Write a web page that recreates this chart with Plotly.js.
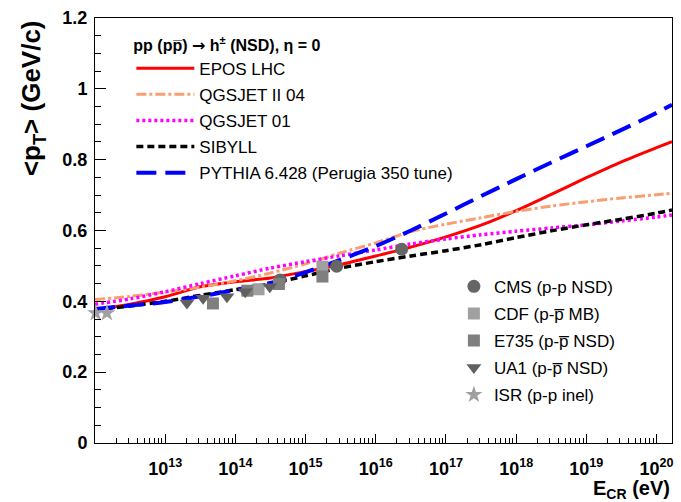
<!DOCTYPE html>
<html>
<head>
<meta charset="utf-8">
<script src="https://cdn.plot.ly/plotly-3.0.1.min.js"></script>
<style>
  html, body { margin: 0; padding: 0; background: #fff; }
  #chart { width: 681px; height: 502px; }
</style>
</head>
<body>
<div id="chart"></div>
<script>
// Model predictions: log10(E_CR / eV) sampling grid and <pT> in GeV/c
const modelLogE   = [12.0, 12.5, 13.0, 13.5, 14.0, 14.5, 15.0, 15.5, 16.0, 16.5, 17.0, 17.5, 18.0, 18.5, 19.0, 19.5, 20.0, 20.22];
const eposLHC     = [0.376, 0.392, 0.413, 0.441, 0.455, 0.466, 0.484, 0.504, 0.528, 0.553, 0.582, 0.615, 0.656, 0.702, 0.749, 0.794, 0.834, 0.851];
const qgsjetII04  = [0.405, 0.414, 0.426, 0.440, 0.458, 0.480, 0.506, 0.537, 0.565, 0.597, 0.618, 0.636, 0.654, 0.669, 0.681, 0.692, 0.701, 0.705];
const qgsjet01    = [0.392, 0.407, 0.427, 0.450, 0.472, 0.494, 0.512, 0.529, 0.545, 0.562, 0.576, 0.588, 0.598, 0.607, 0.616, 0.627, 0.638, 0.644];
const sibyll      = [0.376, 0.387, 0.400, 0.417, 0.433, 0.450, 0.472, 0.494, 0.512, 0.528, 0.543, 0.560, 0.580, 0.599, 0.616, 0.632, 0.649, 0.658];
const pythia      = [0.378, 0.388, 0.398, 0.414, 0.432, 0.452, 0.482, 0.518, 0.556, 0.600, 0.648, 0.697, 0.745, 0.792, 0.838, 0.884, 0.932, 0.955];

// Measurements: equivalent fixed-target energy (log10 eV) and <pT> (GeV/c)
const cmsLogE  = [14.635, 15.443, 16.369];
const cmsPt    = [0.460, 0.499, 0.547];
const cdfLogE  = [14.33, 15.24];
const cdfPt    = [0.434, 0.498];
const e735LogE = [13.68, 14.17, 14.62, 15.24];
const e735Pt   = [0.394, 0.430, 0.449, 0.470];
const ua1LogE  = [13.31, 13.54, 13.88, 14.14, 14.49];
const ua1Pt    = [0.395, 0.409, 0.413, 0.427, 0.441];
const isrLogE  = [12.01, 12.17];
const isrPt    = [0.367, 0.367];

// Axis ticks
const decadeExponents = [13, 14, 15, 16, 17, 18, 19, 20];

const toE = a => a.map(v => Math.pow(10, v));
const FONT = 'Liberation Sans, Arial, Helvetica, sans-serif';

function modelTrace(name, y, color, width, dash) {
  return {
    type: 'scatter', mode: 'lines', name: name,
    x: toE(modelLogE), y: y,
    line: { color: color, width: width, dash: dash, shape: 'spline', smoothing: 0.8 },
    legend: 'legend', legendgroup: name
  };
}

function dataTrace(name, logE, pt, symbol, color, size) {
  return {
    type: 'scatter', mode: 'markers', name: name,
    x: toE(logE), y: pt, cliponaxis: false,
    marker: { symbol: symbol, color: color, size: size, line: { width: 0 } },
    legend: 'legend2', legendgroup: name
  };
}

const traces = [
  modelTrace('EPOS LHC', eposLHC, '#ff0000', 3, 'solid'),
  modelTrace('QGSJET II 04', qgsjetII04, '#f99e70', 3, '10px,3px,3px,3px'),
  modelTrace('QGSJET 01', qgsjet01, '#ff00ff', 3.5, '3px,3px'),
  modelTrace('SIBYLL', sibyll, '#000000', 3.5, '7px,4px'),
  modelTrace('PYTHIA 6.428 (Perugia 350 tune)', pythia, '#0000ff', 4, '20px,9px'),
  dataTrace('CMS (p-p NSD)', cmsLogE, cmsPt, 'circle', '#666666', 13),
  dataTrace('CDF (p-p\u0305 MB)', cdfLogE, cdfPt, 'square', '#a0a0a0', 12),
  dataTrace('E735 (p-p\u0305 NSD)', e735LogE, e735Pt, 'square', '#7f7f7f', 12),
  dataTrace('UA1 (p-p\u0305 NSD)', ua1LogE, ua1Pt, 'triangle-down', '#606060', 13),
  dataTrace('ISR (p-p inel)', isrLogE, isrPt, 'star', '#a0a0a0', 13)
];

const layout = {
  width: 681, height: 502,
  margin: { l: 95, r: 9, t: 18, b: 59 },
  paper_bgcolor: '#ffffff', plot_bgcolor: '#ffffff',
  font: { family: FONT, color: '#000' },
  showlegend: true,
  xaxis: {
    type: 'log', range: [12, 20.22],
    showline: true, linecolor: '#000', linewidth: 1, mirror: true,
    showgrid: false, zeroline: false,
    ticks: 'inside', ticklen: 9, tickwidth: 1, tickcolor: '#000',
    tickmode: 'array',
    tickvals: decadeExponents.map(p => Math.pow(10, p)),
    ticktext: decadeExponents.map(p => '10<sup>' + p + '</sup>'),
    tickfont: { family: FONT, size: 18, weight: 'bold', color: '#000' },
    ticklabelstandoff: 9,
    minor: { ticks: 'inside', ticklen: 5, tickwidth: 1, tickcolor: '#000', dtick: 'D1', showgrid: false }
  },
  yaxis: {
    range: [0, 1.2], tick0: 0, dtick: 0.2,
    showline: true, linecolor: '#000', linewidth: 1, mirror: true,
    showgrid: false, zeroline: false,
    ticks: 'inside', ticklen: 11, tickwidth: 1, tickcolor: '#000',
    tickfont: { family: FONT, size: 18, weight: 'bold', color: '#000' },
    ticklabelstandoff: 3,
    minor: { ticks: 'inside', ticklen: 6, tickwidth: 1, tickcolor: '#000', dtick: 0.05, showgrid: false }
  },
  legend: {
    x: 0.063, y: 0.972, xanchor: 'left', yanchor: 'top',
    bgcolor: 'rgba(0,0,0,0)', borderwidth: 0,
    font: { family: FONT, size: 17, color: '#000' },
    itemwidth: 58, tracegroupgap: 1,
    title: { text: 'pp (pp\u0305) <span style="font-family:DejaVu Sans">\u2192</span> h<sup>\u00b1</sup> (NSD), \u03b7 = 0', side: 'top',
             font: { family: FONT, size: 16, weight: 'bold', color: '#000' } }
  },
  legend2: {
    x: 0.622, y: 0.41, xanchor: 'left', yanchor: 'top',
    bgcolor: 'rgba(0,0,0,0)', borderwidth: 0,
    font: { family: FONT, size: 17, color: '#000' },
    tracegroupgap: 2
  },
  annotations: [
    { text: '&lt;p<sub>T</sub>&gt; (GeV/c)', xref: 'paper', yref: 'paper',
      x: -0.109, y: 1, xanchor: 'center', yanchor: 'top', textangle: -90, showarrow: false,
      font: { family: FONT, size: 26, weight: 'bold', color: '#000' } },
    { text: 'E<sub>CR</sub> (eV)', xref: 'paper', yref: 'paper',
      x: 1, y: 0, xanchor: 'right', yanchor: 'top', yshift: -32, showarrow: false,
      font: { family: FONT, size: 20, weight: 'bold', color: '#000' } }
  ]
};

Plotly.newPlot('chart', traces, layout, { displayModeBar: false, staticPlot: true });
</script>
</body>
</html>
